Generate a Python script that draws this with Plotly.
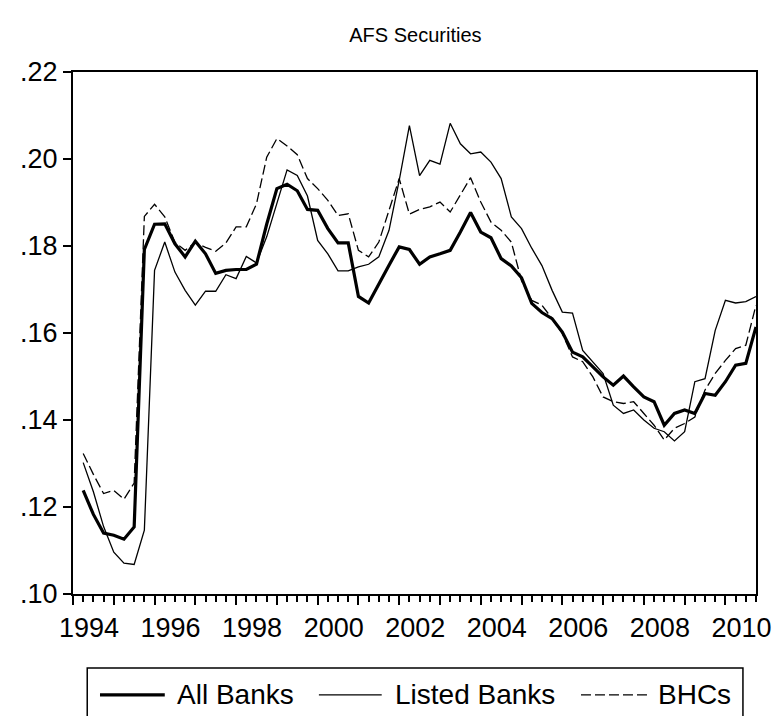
import plotly.graph_objects as go
import pandas as pd

# Quarterly observations 1994Q2 .. 2010Q4
quarters = pd.period_range("1994Q2", "2010Q4", freq="Q")
x_years = [p.year + (p.quarter - 1) / 4 for p in quarters]

all_banks = [
    0.1238, 0.1183, 0.1140, 0.1135, 0.1126, 0.1154, 0.1792, 0.1850, 0.1851, 0.1805,
    0.1775, 0.1811, 0.1782, 0.1737, 0.1744, 0.1746, 0.1746, 0.1758, 0.1850, 0.1932,
    0.1942, 0.1927, 0.1884, 0.1882, 0.1840, 0.1807, 0.1807, 0.1684, 0.1669, 0.1714,
    0.1756, 0.1798, 0.1792, 0.1758, 0.1775, 0.1782, 0.1790, 0.1832, 0.1877, 0.1832,
    0.1819, 0.1771, 0.1754, 0.1727, 0.1668, 0.1647, 0.1633, 0.1602, 0.1556, 0.1545,
    0.1522, 0.1499, 0.1480, 0.1501, 0.1476, 0.1453, 0.1442, 0.1388, 0.1415, 0.1423,
    0.1415, 0.1461, 0.1457, 0.1488, 0.1526, 0.1530, 0.1614,
]
listed_banks = [
    0.1302, 0.1235, 0.1155, 0.1096, 0.1071, 0.1068, 0.1147, 0.1744, 0.1809, 0.1740,
    0.1698, 0.1664, 0.1696, 0.1696, 0.1734, 0.1725, 0.1776, 0.1761, 0.1821, 0.1897,
    0.1975, 0.1962, 0.1915, 0.1813, 0.1782, 0.1743, 0.1743, 0.1752, 0.1758, 0.1775,
    0.1836, 0.1951, 0.2077, 0.1962, 0.1997, 0.1988, 0.2082, 0.2035, 0.2012, 0.2016,
    0.1993, 0.1955, 0.1867, 0.1840, 0.1795, 0.1755, 0.1698, 0.1648, 0.1646, 0.1560,
    0.1534, 0.1507, 0.1434, 0.1415, 0.1423, 0.1400, 0.1381, 0.1373, 0.1352, 0.1373,
    0.1488, 0.1495, 0.1606, 0.1675, 0.1669, 0.1672, 0.1684,
]
bhcs = [
    0.1323, 0.1275, 0.1231, 0.1238, 0.1218, 0.1255, 0.1868, 0.1896, 0.1867, 0.1808,
    0.1790, 0.1808, 0.1797, 0.1788, 0.1807, 0.1844, 0.1844, 0.1897, 0.2004, 0.2047,
    0.2030, 0.2010, 0.1955, 0.1932, 0.1905, 0.1870, 0.1874, 0.1790, 0.1775, 0.1809,
    0.1882, 0.1955, 0.1873, 0.1884, 0.1890, 0.1901, 0.1878, 0.1916, 0.1957, 0.1901,
    0.1855, 0.1836, 0.1809, 0.1720, 0.1675, 0.1664, 0.1633, 0.1599, 0.1545, 0.1534,
    0.1499, 0.1453, 0.1442, 0.1438, 0.1442, 0.1415, 0.1388, 0.1354, 0.1381, 0.1392,
    0.1407, 0.1469, 0.1507, 0.1537, 0.1564, 0.1572, 0.1664,
]

year_ticks = list(range(1994, 2011))
year_labels = [str(y) if y % 2 == 0 else "" for y in year_ticks]
y_ticks = [0.10, 0.12, 0.14, 0.16, 0.18, 0.20, 0.22]
y_labels = [".10", ".12", ".14", ".16", ".18", ".20", ".22"]

series_names = ["All Banks", "Listed Banks", "BHCs"]
FONT = "Liberation Sans, Arial, sans-serif"

fig = go.Figure()
fig.add_trace(go.Scatter(x=x_years, y=all_banks, mode="lines", name=series_names[0],
                         line=dict(color="black", width=3.2)))
fig.add_trace(go.Scatter(x=x_years, y=listed_banks, mode="lines", name=series_names[1],
                         line=dict(color="black", width=1.3)))
fig.add_trace(go.Scatter(x=x_years, y=bhcs, mode="lines", name=series_names[2],
                         line=dict(color="black", width=1.3, dash="10px,4px")))

# page body has an 8px default margin, so the figure is 8px smaller each way
OFF = 8
W, H = 783 - OFF, 716 - OFF
L, R, T, B = 59.5, 19.7, 63.5, 122
pw, ph = W - L - R, H - T - B


def px(xs):
    return (xs - OFF - L) / pw


def py(ys):
    return (H - B - (ys - OFF)) / ph


shapes = [
    dict(type="rect", xref="paper", yref="paper", x0=px(82), x1=px(750), y0=py(730), y1=py(668),
         line=dict(color="black", width=1.5), fillcolor="rgba(0,0,0,0)", layer="above"),
    dict(type="line", xref="paper", yref="paper", x0=px(95), x1=px(161), y0=py(695), y1=py(695),
         line=dict(color="black", width=3.2)),
    dict(type="line", xref="paper", yref="paper", x0=px(318), x1=px(382), y0=py(695), y1=py(695),
         line=dict(color="black", width=1.3)),
    dict(type="line", xref="paper", yref="paper", x0=px(585), x1=px(656), y0=py(695), y1=py(695),
         line=dict(color="black", width=1.3, dash="10px,4px")),
]
annotations = [
    dict(text=series_names[0], xref="paper", yref="paper", x=px(171), y=py(695), xanchor="left",
         yanchor="middle", showarrow=False, font=dict(size=28, color="black", family=FONT)),
    dict(text=series_names[1], xref="paper", yref="paper", x=px(394), y=py(695), xanchor="left",
         yanchor="middle", showarrow=False, font=dict(size=28, color="black", family=FONT)),
    dict(text=series_names[2], xref="paper", yref="paper", x=px(661), y=py(695), xanchor="left",
         yanchor="middle", showarrow=False, font=dict(size=28, color="black", family=FONT)),
]

fig.update_layout(
    width=W, height=H,
    margin=dict(l=L, r=R, t=T, b=B, pad=0),
    paper_bgcolor="white", plot_bgcolor="white",
    showlegend=False,
    font=dict(family=FONT, color="black"),
    title=dict(text="AFS Securities", x=(L + pw / 2) / W, xanchor="center",
               y=1 - 27 / H, yanchor="middle", font=dict(size=20, color="black", family=FONT)),
    shapes=shapes,
    annotations=annotations,
    xaxis=dict(range=[1994, 2010.75], tickvals=year_ticks, ticktext=year_labels,
               ticks="outside", ticklen=9, tickwidth=1.5, tickcolor="black",
               showline=True, linewidth=2, linecolor="black", mirror=True,
               showgrid=False, zeroline=False, ticklabelshift=16,
               tickfont=dict(size=27, color="black", family=FONT),
               minor=dict(dtick=0.25, tick0=1994, ticks="outside", ticklen=6,
                          tickwidth=1.5, tickcolor="black", showgrid=False)),
    yaxis=dict(range=[0.10, 0.22], tickvals=y_ticks, ticktext=y_labels,
               ticks="outside", ticklen=8, tickwidth=1.5, tickcolor="black",
               showline=True, linewidth=2, linecolor="black", mirror=True,
               showgrid=False, zeroline=False,
               tickfont=dict(size=27, color="black", family=FONT)),
)

fig.write_html("out.html")
